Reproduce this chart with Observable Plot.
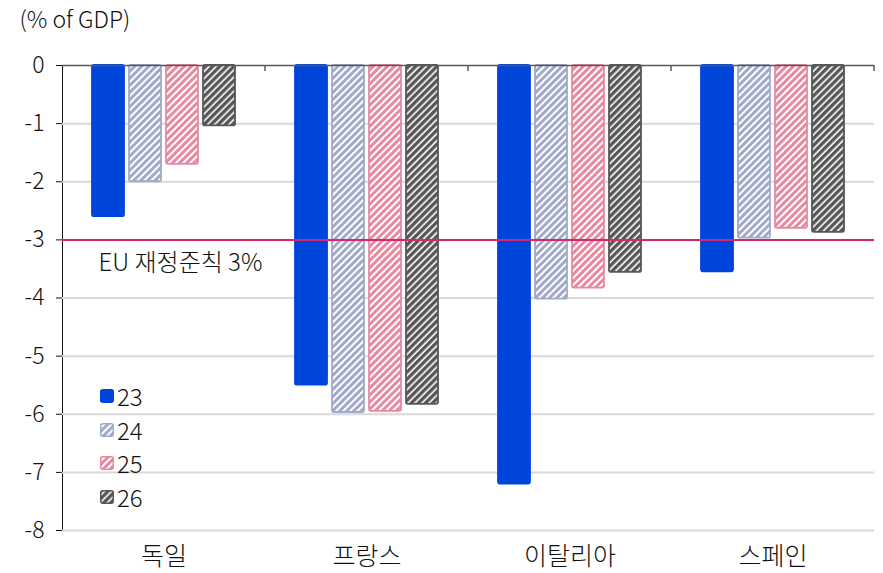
<!DOCTYPE html>
<html>
<head>
<meta charset="utf-8">
<script src="https://cdn.jsdelivr.net/npm/d3@7"></script>
<script src="https://cdn.jsdelivr.net/npm/@observablehq/plot@0.6"></script>
<style>
  body { margin: 0; background: #fff; }
  #chart {
    position: relative; width: 883px; height: 573px;
    font-family: "Noto Sans CJK KR", "Noto Sans", sans-serif; color: #111;
  }
  #legend {
    position: absolute; left: 100px; top: 379px;
    font-size: 24px; font-weight: 300; line-height: 1;
  }
  #legend .row { display: flex; align-items: center; height: 33.7px; }
  #legend svg { margin-right: 3px; }
  #chart svg g[aria-label="fx-axis tick label"] text { font-size: 25px; }
</style>
</head>
<body>
<div id="chart"><div id="legend"></div></div>
<script>
// General government balance, % of GDP
const countries = ["독일", "프랑스", "이탈리아", "스페인"];
const years = ["23", "24", "25", "26"];
const balance23 = [-2.6, -5.5, -7.2, -3.55];
const balance24 = [-2.0, -5.97, -4.02, -2.97];
const balance25 = [-1.7, -5.95, -3.83, -2.8];
const balance26 = [-1.04, -5.83, -3.56, -2.87];
const yTicks = [0, -1, -2, -3, -4, -5, -6, -7, -8];
const fiscalRule = -3;
const ruleLabel = "EU 재정준칙 3%";
const unitLabel = "(% of GDP)";

// year -> colour; hatched years use an SVG pattern drawn in that colour
const colors = {"23": "#0045db", "24": "#a3a9c8", "25": "#e78aa1", "26": "#575757"};
const hatched = {"24": 3, "25": 3, "26": 3.4};   // stripe thickness out of a 5px period
const fills = years.map(y => hatched[y] ? `url(#hatch-${y})` : colors[y]);

const series = [balance23, balance24, balance25, balance26];
const rows = [];
years.forEach((year, i) => countries.forEach((country, j) =>
  rows.push({country, year, value: series[i][j]})));

const font = `"Noto Sans CJK KR", "Noto Sans", sans-serif`;

const chart = Plot.plot({
  width: 883,
  height: 573,
  marginLeft: 61,
  marginRight: 9,
  marginTop: 65,
  marginBottom: 43,
  style: {fontFamily: font, fontSize: "23px", fontWeight: 300, color: "#111", background: "#fff"},
  fx: {domain: countries, padding: 0, axis: "bottom", label: null, tickSize: 0, tickPadding: 17},
  x: {domain: years, axis: null, paddingInner: 0.135, paddingOuter: 0.81},
  y: {domain: [-8, 0], ticks: yTicks, tickFormat: d => String(d), tickSize: 6, tickPadding: 12,
      label: null, line: true},
  color: {type: "ordinal", domain: years, range: fills},
  marks: [
    Plot.ruleY(yTicks.filter(d => d !== 0), {stroke: "#d9d9d9", strokeWidth: 2}),
    ...years.map(year => Plot.barY(rows.filter(d => d.year === year), {
      fx: "country", x: "year", y: "value", fill: "year",
      stroke: colors[year], strokeWidth: 1.8, rx: 2
    })),
    Plot.ruleY([0], {stroke: "#595959", strokeWidth: 1.5}),
    Plot.ruleY([fiscalRule], {stroke: "#d6266c", strokeWidth: 2}),
    Plot.text([{country: countries[0], value: fiscalRule, label: ruleLabel}], {
      fx: "country", y: "value", text: "label", frameAnchor: "left", textAnchor: "start",
      dx: 36, dy: 23, fontSize: 24, fontFamily: font, fontWeight: 300, fill: "#111"
    }),
    Plot.text([{country: countries[0], label: unitLabel}], {
      fx: "country", text: "label", frameAnchor: "top-left", textAnchor: "start", lineAnchor: "middle",
      dx: -43, dy: -45, fontSize: 23, fontFamily: font, fontWeight: 300, fill: "#111"
    })
  ]
});

// hatch patterns referenced by the colour scale and the legend swatches
const svg = d3.select(chart);
const defs = svg.insert("defs", ":first-child");
for (const year of years.filter(y => hatched[y])) {
  const p = defs.append("pattern")
    .attr("id", `hatch-${year}`)
    .attr("patternUnits", "userSpaceOnUse")
    .attr("width", 5).attr("height", 5)
    .attr("patternTransform", "rotate(45)");
  p.append("rect").attr("width", 5).attr("height", 5).attr("fill", "#fff");
  p.append("rect").attr("width", hatched[year]).attr("height", 5).attr("fill", colors[year]);
}

// category divider ticks hanging below the zero line
const fxScale = chart.scale("fx");
const yScale = chart.scale("y");
const y0 = yScale.apply(0);
svg.append("g").selectAll("line")
  .data(countries)
  .join("line")
  .attr("x1", c => fxScale.apply(c) + fxScale.bandwidth)
  .attr("x2", c => fxScale.apply(c) + fxScale.bandwidth)
  .attr("y1", y0).attr("y2", y0 + 6)
  .attr("stroke", "#595959").attr("stroke-width", 1.5);

const host = document.getElementById("chart");
host.insertBefore(chart, host.firstChild);

// legend
const legend = d3.select("#legend");
years.forEach((year, i) => {
  const row = legend.append("div").attr("class", "row");
  const sw = row.append("svg").attr("width", 14).attr("height", 14);
  sw.append("rect").attr("x", 0.75).attr("y", 0.75).attr("width", 12.5).attr("height", 12.5)
    .attr("rx", 2).attr("fill", fills[i]).attr("stroke", colors[year]).attr("stroke-width", 1.5);
  row.append("span").text(year);
});
</script>
</body>
</html>
